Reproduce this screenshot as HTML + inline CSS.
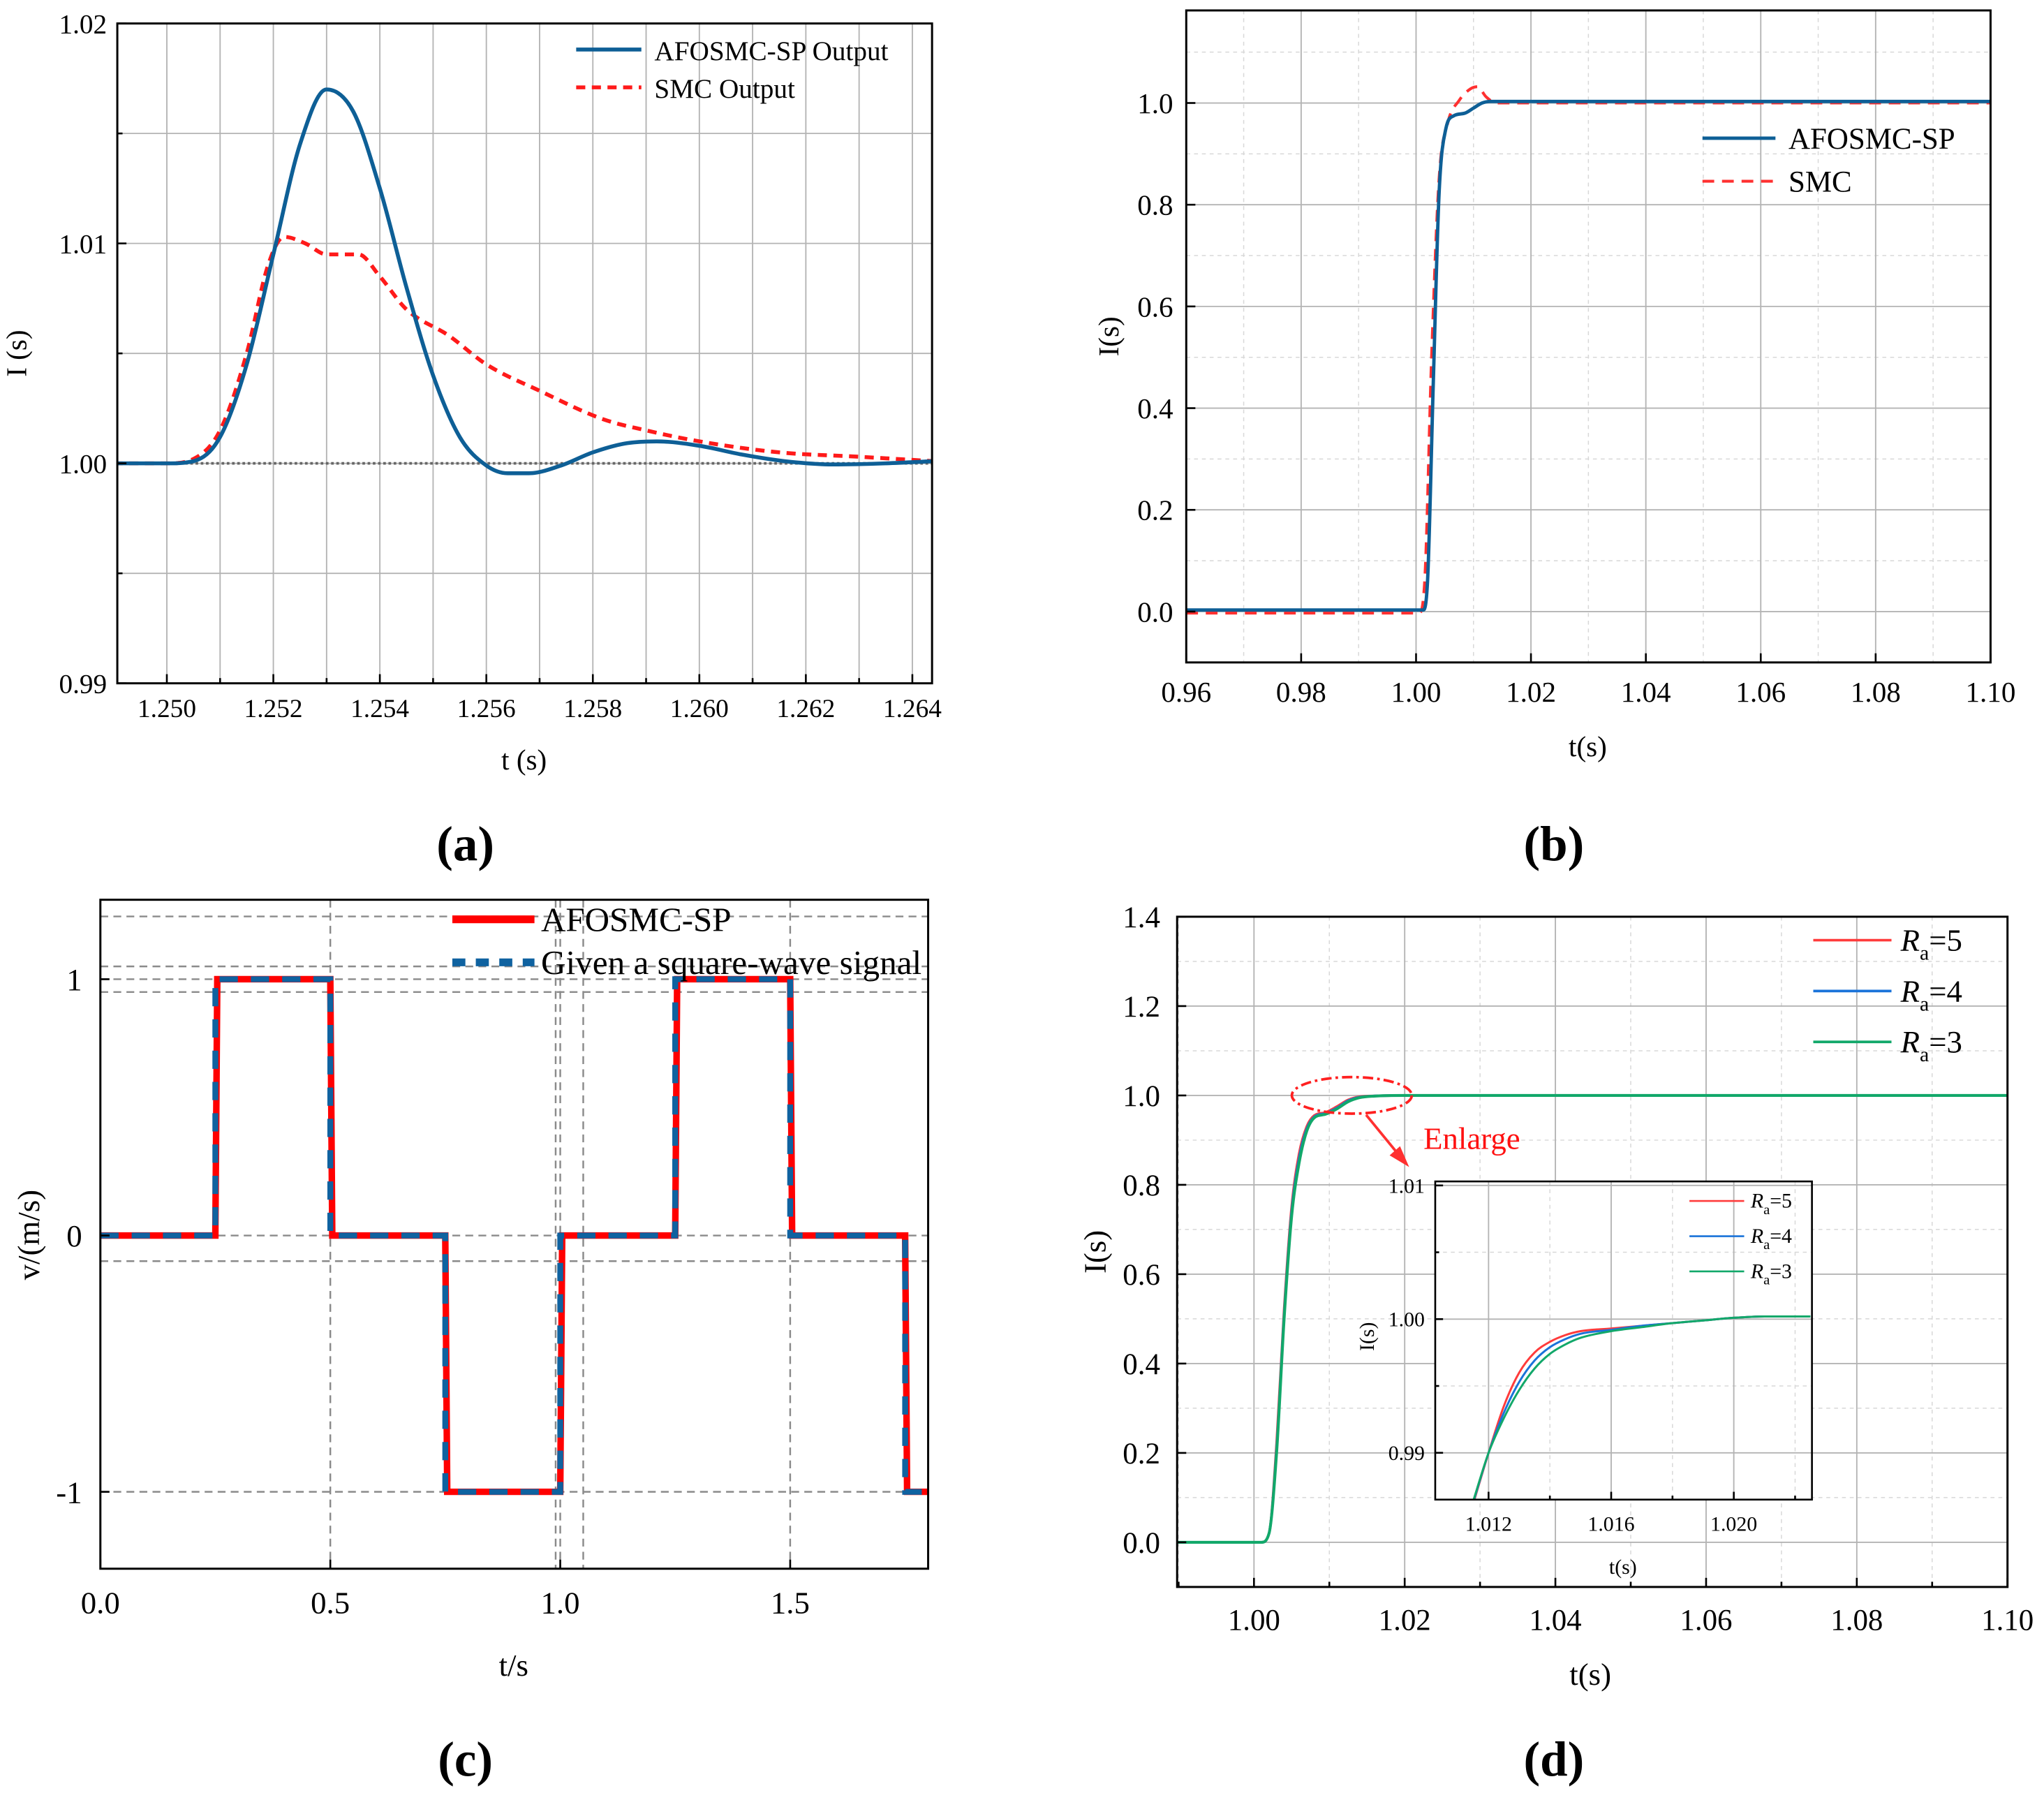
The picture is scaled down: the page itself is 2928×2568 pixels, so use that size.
<!DOCTYPE html>
<html><head><meta charset="utf-8"><style>
html,body{margin:0;padding:0;background:#fff;}
svg{display:block;font-family:"Liberation Serif",serif;}
</style></head><body>
<svg id="fig" xmlns="http://www.w3.org/2000/svg" width="2928" height="2568" viewBox="0 0 1568 1375" preserveAspectRatio="none"></svg>
<script>
// ---- Panel (a) data ----
const aT  = [1.2490,1.2500,1.2505,1.2510,1.2515,1.2520,1.2525,1.2530,1.2535,1.2540,1.2545,1.2550,1.2555,1.2560,1.2564,1.2568,1.2574,1.2580,1.2586,1.2592,1.2600,1.2608,1.2616,1.2625,1.2635,1.2644];
const aAF = [1.0000,1.0000,1.0001,1.0012,1.0045,1.0095,1.0145,1.0170,1.0160,1.0125,1.0080,1.0040,1.0012,0.9999,0.99955,0.99955,0.9999,1.0005,1.0009,1.0010,1.0008,1.0004,1.0001,0.99995,1.0000,1.0001];
const aSMC_T = [1.2490,1.2500,1.2505,1.2510,1.2515,1.2519,1.2522,1.2526,1.2530,1.2536,1.2540,1.2545,1.2553,1.2560,1.2570,1.2582,1.2590,1.2600,1.2615,1.2630,1.2644];
const aSMC   = [1.0000,1.0000,1.0002,1.0015,1.0050,1.0090,1.0103,1.0100,1.0095,1.0095,1.0085,1.0070,1.0058,1.0045,1.0033,1.0020,1.0015,1.0010,1.0005,1.0003,1.0001];
// ---- Panel (b) data ----
const bT_AF = [0.96,1.0012,1.0020,1.0030,1.0040,1.0052,1.0066,1.0085,1.0100,1.0115,1.0130,1.10];
const bAF   = [0.003,0.003,0.06,0.45,0.82,0.95,0.975,0.98,0.99,1.0,1.003,1.003];
const bT_SMC= [0.96,1.0005,1.0015,1.0027,1.004,1.0055,1.0075,1.0095,1.0107,1.0122,1.014,1.10];
const bSMC  = [-0.003,-0.003,0.06,0.50,0.85,0.96,1.005,1.028,1.032,1.012,1.0,1.0];
// ---- Panel (c) data ----
const cEdges = [0,0.25,0.5,0.75,1.0,1.25,1.5,1.75,1.8];
const cLevels = [0,1,0,-1,0,1,0,-1];
// ---- Panel (d) data ----
const dT = [0.9898,1.0010,1.0020,1.0030,1.0040,1.0050,1.0060,1.0070,1.0080,1.0095,1.0110,1.0125,1.0140,1.0160,1.0200,1.1000];
const dR5 = [0,0,0.02,0.22,0.52,0.75,0.87,0.93,0.955,0.962,0.975,0.99,0.997,0.999,1.0,1.0];
const dR4 = [0,0,0.02,0.21,0.51,0.74,0.86,0.925,0.952,0.960,0.972,0.988,0.996,0.999,1.0,1.0];
const dR3 = [0,0,0.02,0.20,0.50,0.73,0.85,0.92,0.95,0.958,0.970,0.986,0.995,0.9985,1.0,1.0];
// ---- Inset data ----
const iT  = [1.0115,1.0120,1.0125,1.0130,1.0135,1.0140,1.0145,1.0150,1.0160,1.0170,1.0180,1.0190,1.0200,1.0210,1.0225];
const iR5 = [0.9862,0.9900,0.9935,0.9960,0.9975,0.9983,0.9988,0.9991,0.9993,0.9995,0.9997,0.9999,1.0001,1.0002,1.0002];
const iR4 = [0.9863,0.9900,0.9930,0.9953,0.9969,0.9979,0.9985,0.9989,0.9992,0.9995,0.9997,0.9999,1.0001,1.0002,1.0002];
const iR3 = [0.9864,0.9900,0.9926,0.9947,0.9963,0.9974,0.9981,0.9986,0.9991,0.9994,0.9997,0.9999,1.0001,1.0002,1.0002];

const NS="http://www.w3.org/2000/svg";
const svg=document.getElementById('fig');
function E(tag,a,p){const e=document.createElementNS(NS,tag);for(const k in a)e.setAttribute(k,a[k]);(p||svg).appendChild(e);return e;}
function T(txt,a,p){const e=E('text',a,p);e.textContent=txt;return e;}
function X(ax,v){return ax.x0+(v-ax.xmin)/(ax.xmax-ax.xmin)*(ax.x1-ax.x0);}
function Y(ax,v){return ax.y1-(v-ax.ymin)/(ax.ymax-ax.ymin)*(ax.y1-ax.y0);}
function smoothPath(ax,xs,ys){
  const p=xs.map((x,i)=>[X(ax,x),Y(ax,ys[i])]);
  const n=p.length;
  // monotone cubic (Fritsch-Carlson) tangents
  const dx=[],dy=[],m=[],t=[];
  for(let i=0;i<n-1;i++){dx[i]=p[i+1][0]-p[i][0];dy[i]=p[i+1][1]-p[i][1];m[i]=dx[i]?dy[i]/dx[i]:0;}
  t[0]=m[0];t[n-1]=m[n-2];
  for(let i=1;i<n-1;i++){t[i]=(m[i-1]*m[i]<=0)?0:(m[i-1]+m[i])/2;}
  for(let i=0;i<n-1;i++){if(m[i]===0){t[i]=0;t[i+1]=0;continue;}
    const a=t[i]/m[i],b=t[i+1]/m[i],s=a*a+b*b;if(s>9){const k=3/Math.sqrt(s);t[i]=k*a*m[i];t[i+1]=k*b*m[i];}}
  let d='M'+p[0][0].toFixed(2)+','+p[0][1].toFixed(2);
  for(let i=0;i<n-1;i++){const h=dx[i]/3;
    d+='C'+(p[i][0]+h).toFixed(2)+','+(p[i][1]+t[i]*h).toFixed(2)+' '+(p[i+1][0]-h).toFixed(2)+','+(p[i+1][1]-t[i+1]*h).toFixed(2)+' '+p[i+1][0].toFixed(2)+','+p[i+1][1].toFixed(2);}
  return d;
}
function clip(ax,id){const cp=E('clipPath',{id:id});E('rect',{x:ax.x0,y:ax.y0,width:ax.x1-ax.x0,height:ax.y1-ax.y0},cp);return 'url(#'+id+')';}
function frame(ax,name){const r=E('rect',{x:ax.x0,y:ax.y0,width:ax.x1-ax.x0,height:ax.y1-ax.y0,fill:'none',stroke:'#000','stroke-width':1.6});

}
function vgrid(ax,v,style){const l=E('line',Object.assign({x1:X(ax,v),x2:X(ax,v),y1:ax.y0,y2:ax.y1},style));

}
function hgrid(ax,v,style){const l=E('line',Object.assign({y1:Y(ax,v),y2:Y(ax,v),x1:ax.x0,x2:ax.x1},style));

}
function xtick(ax,v,len,label,fs,dy){E('line',{x1:X(ax,v),x2:X(ax,v),y1:ax.y1,y2:ax.y1-len,stroke:'#000','stroke-width':1.4});
if(label!==null){const t=T(label,{x:X(ax,v),y:ax.y1+dy,'font-size':fs,'text-anchor':'middle'});

}}
function ytick(ax,v,len,label,fs,dx){E('line',{y1:Y(ax,v),y2:Y(ax,v),x1:ax.x0,x2:ax.x0+len,stroke:'#000','stroke-width':1.4});
if(label!==null){const t=T(label,{x:ax.x0-dx,y:Y(ax,v)+fs*0.35,'font-size':fs,'text-anchor':'end'});

}}
function series(ax,xs,ys,style,cp,name){const p=E('path',Object.assign({d:smoothPath(ax,xs,ys),fill:'none','clip-path':cp},style));

}
function title(txt,x,y,fs,rot,name,bold){const t=T(txt,{x:x,y:y,'font-size':fs,'text-anchor':'middle','font-weight':bold?'bold':'normal',transform:rot?'rotate(-90 '+x+' '+y+')':''});

}
const G1={stroke:'#b4b4b4','stroke-width':1};
const G2={stroke:'#d8d8d8','stroke-width':0.8,'stroke-dasharray':'3,3'};

// ===== Panel A =====
const A={x0:90,x1:715,y0:18,y1:524,xmin:1.24907,xmax:1.26437,ymin:0.99,ymax:1.02};
const aXt=['1.250','1.252','1.254','1.256','1.258','1.260','1.262','1.264'];
const aYt=['0.99','1.00','1.01','1.02'];
for(let i=0;i<15;i++){vgrid(A,1.250+i*0.001,G1);}
for(let i=1;i<6;i++){hgrid(A,0.99+i*0.005,G1);}
const cpA=clip(A,'cA');
E('line',{x1:A.x0,x2:A.x1,y1:Y(A,1.0),y2:Y(A,1.0),stroke:'#666','stroke-width':2,'stroke-dasharray':'2,2'});
series(A,aSMC_T,aSMC,{stroke:'#ff1a1a','stroke-width':3,'stroke-dasharray':'7,5'},cpA,'smc-output-line');
series(A,aT,aAF,{stroke:'#0e5f96','stroke-width':3},cpA,'afosmc-output-line');
frame(A,'plot-area-a');
aXt.forEach(s=>xtick(A,parseFloat(s),7,s,20,26));
for(let i=0;i<7;i++) xtick(A,1.251+i*0.002,4,null);
aYt.forEach(s=>ytick(A,parseFloat(s),7,s,21,8));
for(let i=0;i<3;i++) ytick(A,0.995+i*0.01,4,null);
E('line',{x1:442,x2:492,y1:38,y2:38,stroke:'#0e5f96','stroke-width':3});
E('line',{x1:442,x2:492,y1:67,y2:67,stroke:'#ff1a1a','stroke-width':3,'stroke-dasharray':'7,5'});
{const t=T('AFOSMC-SP Output',{x:502,y:46,'font-size':21});}
{const t=T('SMC Output',{x:502,y:75,'font-size':21});}
title('t (s)',402,590,22,false,'x-axis-title-a');
title('I (s)',20,271,22,true,'y-axis-title-a');
title('(a)',357,660,38,false,'panel-label-a',true);

// ===== Panel B =====
const B={x0:910,x1:1527,y0:8,y1:508,xmin:0.96,xmax:1.10,ymin:-0.1,ymax:1.182};
const bXt=['0.96','0.98','1.00','1.02','1.04','1.06','1.08','1.10'];
const bYt=['0.0','0.2','0.4','0.6','0.8','1.0'];
for(let i=0;i<7;i++){vgrid(B,0.97+i*0.02,G2);}
for(let i=0;i<6;i++){hgrid(B,0.1+i*0.2,G2);}
for(let i=1;i<7;i++){vgrid(B,0.96+i*0.02,G1);}
bYt.forEach(s=>hgrid(B,parseFloat(s),G1));
const cpB=clip(B,'cB');
series(B,bT_SMC,bSMC,{stroke:'#ff3030','stroke-width':2.2,'stroke-dasharray':'9,6'},cpB,'smc-line');
series(B,bT_AF,bAF,{stroke:'#0e5f96','stroke-width':2.6},cpB,'afosmc-line');
frame(B,'plot-area-b');
bXt.forEach(s=>xtick(B,parseFloat(s),7,s,22,30));
bYt.forEach(s=>ytick(B,parseFloat(s),7,s,22,10));
E('line',{x1:1306,x2:1362,y1:106,y2:106,stroke:'#0e5f96','stroke-width':2.6});
E('line',{x1:1306,x2:1362,y1:139,y2:139,stroke:'#ff3030','stroke-width':2.2,'stroke-dasharray':'9,6'});
{const t=T('AFOSMC-SP',{x:1372,y:114,'font-size':23});}
{const t=T('SMC',{x:1372,y:147,'font-size':23});}
title('t(s)',1218,580,22,false,'x-axis-title-b');
title('I(s)',858,258,22,true,'y-axis-title-b');
title('(b)',1192,660,38,false,'panel-label-b',true);

// ===== Panel C =====
const C={x0:77,x1:712,y0:690,y1:1203,xmin:0,xmax:1.8,ymin:-1.3,ymax:1.31};
const cXt=['0.0','0.5','1.0','1.5'];
const cYt=['-1','0','1'];
const GD={stroke:'#8a8a8a','stroke-width':1.3,'stroke-dasharray':'6,4'};
[1.245,1.05,1,0.95,0,-0.1,-1].forEach(v=>hgrid(C,v,GD));
[0.5,0.99,1.0,1.05,1.5].forEach(v=>vgrid(C,v,GD));
const cpC=clip(C,'cC');
function stepPath(ax,edges,levels,skew){let d='M'+X(ax,edges[0])+','+Y(ax,levels[0]);
for(let i=0;i<levels.length;i++){d+='L'+X(ax,edges[i+1])+','+Y(ax,levels[i]);
if(i<levels.length-1){d+='L'+(X(ax,edges[i+1])+skew)+','+Y(ax,levels[i+1]);}}return d;}
{const p=E('path',{d:stepPath(C,cEdges,cLevels,1.5),fill:'none',stroke:'#ff0000','stroke-width':5,'clip-path':cpC});

}
{const p=E('path',{d:stepPath(C,cEdges,cLevels,0),fill:'none',stroke:'#0f62a0','stroke-width':4.5,'stroke-dasharray':'14,10','clip-path':cpC});

}
frame(C,'plot-area-c');
cXt.forEach(s=>xtick(C,parseFloat(s),7,s,24,34));
cYt.forEach(s=>ytick(C,parseFloat(s),7,s,24,14));
E('line',{x1:347,x2:410,y1:705,y2:705,stroke:'#ff0000','stroke-width':6});
E('line',{x1:347,x2:410,y1:738,y2:738,stroke:'#0f62a0','stroke-width':6,'stroke-dasharray':'10,8'});
{const t=T('AFOSMC-SP',{x:415,y:714,'font-size':26,textLength:146,lengthAdjust:'spacingAndGlyphs'});}
{const t=T('Given a square-wave signal',{x:415,y:747,'font-size':26,textLength:292,lengthAdjust:'spacingAndGlyphs'});}
title('t/s',394,1285,24,false,'x-axis-title-c');
title('v/(m/s)',30,947,24,true,'y-axis-title-c');
title('(c)',357,1362,38,false,'panel-label-c',true);

// ===== Panel D =====
const D={x0:903,x1:1540,y0:703,y1:1217,xmin:0.9898,xmax:1.10,ymin:-0.1,ymax:1.4};
const dXt=['1.00','1.02','1.04','1.06','1.08','1.10'];
const dYt=['0.0','0.2','0.4','0.6','0.8','1.0','1.2','1.4'];
for(let i=0;i<6;i++){vgrid(D,0.99+i*0.02,G2);}
for(let i=0;i<8;i++){hgrid(D,-0.1+i*0.2,G2);}
dXt.forEach(s=>vgrid(D,parseFloat(s),G1));
dYt.forEach(s=>hgrid(D,parseFloat(s),G1));
const cpD=clip(D,'cD');
series(D,dT,dR5,{stroke:'#ff3b3b','stroke-width':2},cpD,'ra5-line');
series(D,dT,dR4,{stroke:'#1a73d9','stroke-width':2},cpD,'ra4-line');
series(D,dT,dR3,{stroke:'#12a86a','stroke-width':2.2},cpD,'ra3-line');
frame(D,'plot-area-d');
dXt.forEach(s=>xtick(D,parseFloat(s),7,s,23,33));
for(let i=0;i<6;i++) xtick(D,0.99+i*0.02,4,null);
dYt.forEach(s=>ytick(D,parseFloat(s),7,s,23,13));
const dLeg=[['#ff3b3b','5',721],['#1a73d9','4',760],['#12a86a','3',799]];
dLeg.forEach(l=>{E('line',{x1:1391,x2:1451,y1:l[2],y2:l[2],stroke:l[0],'stroke-width':2});
const t=T('',{x:1458,y:l[2]+8,'font-size':24});


t.innerHTML='<tspan font-style="italic">R</tspan><tspan font-size="16" dy="7">a</tspan><tspan dy="-7">='+l[1]+'</tspan>';});
{const el=E('ellipse',{cx:1037,cy:840,rx:46,ry:14,fill:'none',stroke:'#ff2020','stroke-width':2,'stroke-dasharray':'8,3,2,3'});

}
E('line',{x1:1048,x2:1075,y1:855,y2:888,stroke:'#ff3030','stroke-width':2});
E('path',{d:'M1081,895 L1066,886 L1074,879 Z',fill:'#ff3030'});
{const t=T('Enlarge',{x:1092,y:881,'font-size':24,fill:'#ff1010'});}
title('t(s)',1220,1292,24,false,'x-axis-title-d');
title('I(s)',848,960,24,true,'y-axis-title-d');
title('(d)',1192,1362,38,false,'panel-label-d',true);

// ===== Inset =====
const I={x0:1101,x1:1390,y0:906,y1:1150,xmin:1.01026,xmax:1.02255,ymin:0.9865,ymax:1.0103};
const iXt=['1.012','1.016','1.020'];
const iYt=['0.99','1.00','1.01'];
{const bg=E('rect',{x:I.x0,y:I.y0,width:I.x1-I.x0,height:I.y1-I.y0,fill:'#fff'});}
for(let i=0;i<3;i++){vgrid(I,1.014+i*0.004,G2);}
for(let i=0;i<2;i++){hgrid(I,0.995+i*0.01,G2);}
iXt.forEach(s=>vgrid(I,parseFloat(s),G1));
iYt.forEach(s=>hgrid(I,parseFloat(s),G1));
const cpI=clip(I,'cI');
series(I,iT,iR5,{stroke:'#ff3b3b','stroke-width':1.6},cpI,'inset-ra5-line');
series(I,iT,iR4,{stroke:'#1a73d9','stroke-width':1.6},cpI,'inset-ra4-line');
series(I,iT,iR3,{stroke:'#12a86a','stroke-width':1.6},cpI,'inset-ra3-line');
{const r=E('rect',{x:I.x0,y:I.y0,width:I.x1-I.x0,height:I.y1-I.y0,fill:'none',stroke:'#000','stroke-width':1.4});}
iXt.forEach(s=>xtick(I,parseFloat(s),6,s,16,24));
for(let i=0;i<3;i++) xtick(I,1.014+i*0.004,3,null);
iYt.forEach(s=>ytick(I,parseFloat(s),6,s,16,8));
for(let i=0;i<2;i++) ytick(I,0.995+i*0.01,3,null);
const iLeg=[['#ff3b3b','5',921],['#1a73d9','4',948],['#12a86a','3',975]];
iLeg.forEach(l=>{E('line',{x1:1296,x2:1338,y1:l[2],y2:l[2],stroke:l[0],'stroke-width':1.4});
const t=T('',{x:1343,y:l[2]+5,'font-size':16});


t.innerHTML='<tspan font-style="italic">R</tspan><tspan font-size="11" dy="5">a</tspan><tspan dy="-5">='+l[1]+'</tspan>';});
title('t(s)',1245,1207,16,false,'inset-x-axis-title');
title('I(s)',1054,1025,16,true,'inset-y-axis-title');
</script>
</body></html>
